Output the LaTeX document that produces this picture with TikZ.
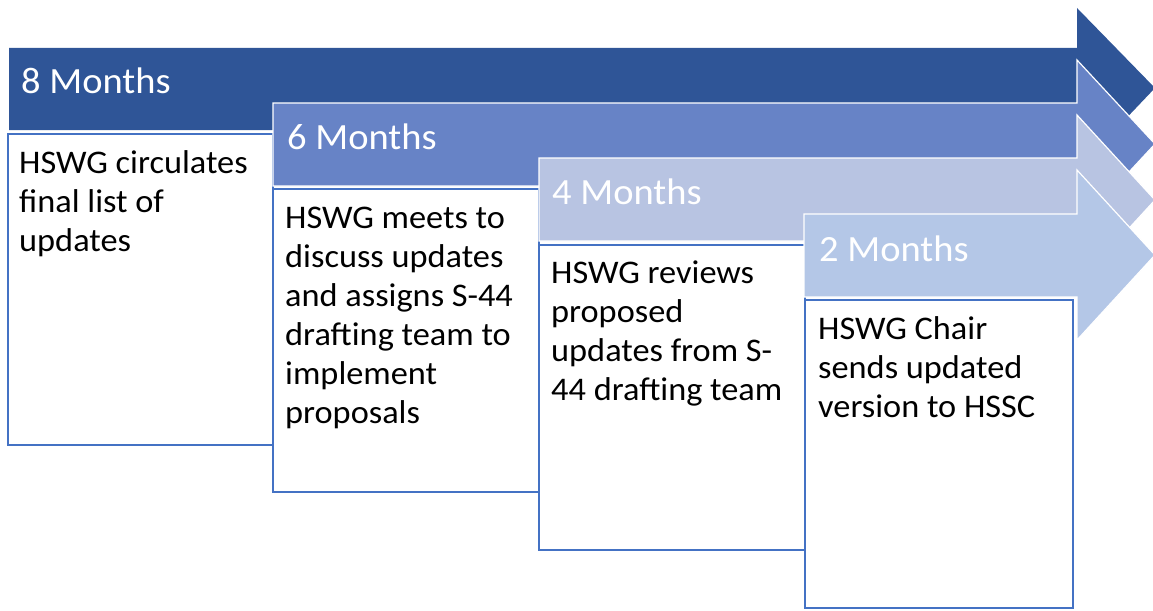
\documentclass[tikz,border=0pt]{standalone}
\usepackage{fontspec}
\setmainfont{Carlito}[FakeStretch=1.04]
\definecolor{arrA}{HTML}{2F5597}
\definecolor{arrB}{HTML}{6783C6}
\definecolor{arrC}{HTML}{B8C4E2}
\definecolor{arrD}{HTML}{B4C7E7}
\definecolor{boxline}{HTML}{4472C4}
\newcommand{\lines}[1]{\vtop{\def\\{\par}\hsize=300pt\parindent=0pt #1}}
\begin{document}
\begin{tikzpicture}[x=1pt,y=-1pt,
  arrowshape/.style={draw=white,line width=1.2pt,line join=miter},
  stepbox/.style={draw=boxline,fill=white,line width=2pt},
  headtext/.style={anchor=base west,inner sep=0pt,text=white,font=\fontsize{37}{44}\selectfont},
  bodytext/.style={anchor=base west,inner sep=0pt,text=black,font=\fontsize{33}{39}\selectfont}]
\useasboundingbox (0,0) rectangle (1153,610);
% arrow 1
\fill[arrA] (9,48) -- (1077,48) -- (1077,8) -- (1155,88) -- (1077,170) -- (1077,130) -- (9,130) -- cycle;
\draw[stepbox] (8,134) rectangle (273,445);
% arrow 2
\filldraw[arrowshape,fill=arrB] (273,103) -- (1077,103) -- (1077,60) -- (1155,144) -- (1077,228) -- (1077,186) -- (273,186) -- cycle;
\draw[stepbox] (273,189) rectangle (539,492);
% arrow 3
\filldraw[arrowshape,fill=arrC] (539,158) -- (1077,158) -- (1077,115) -- (1155,200) -- (1077,285) -- (1077,241) -- (539,241) -- cycle;
\draw[stepbox] (539,245) rectangle (805,550);
% arrow 4
\filldraw[arrowshape,fill=arrD] (804,214) -- (1077,214) -- (1077,170) -- (1155,255) -- (1077,340) -- (1077,297) -- (804,297) -- cycle;
\draw[stepbox] (805,300) rectangle (1073,608);
% headers
\node[headtext] (h1) at (21,93) {8 Months};
\node[headtext] (h2) at (287,149) {6 Months};
\node[headtext] (h3) at (552,204) {4 Months};
\node[headtext] (h4) at (819,261) {2 Months};
% bodies
\node[bodytext] (b1) at (19,173) {\lines{HSWG circulates\\final list of\\updates}};
\node[bodytext] (b2) at (285,228) {\lines{HSWG meets to\\discuss updates\\and assigns S-44\\drafting team to\\implement\\proposals}};
\node[bodytext] (b3) at (551,283) {\lines{HSWG reviews\\proposed\\updates from S-\\44 drafting team}};
\node[bodytext] (b4) at (818,339) {\lines{HSWG Chair\\sends updated\\version to HSSC}};
\end{tikzpicture}
\end{document}
